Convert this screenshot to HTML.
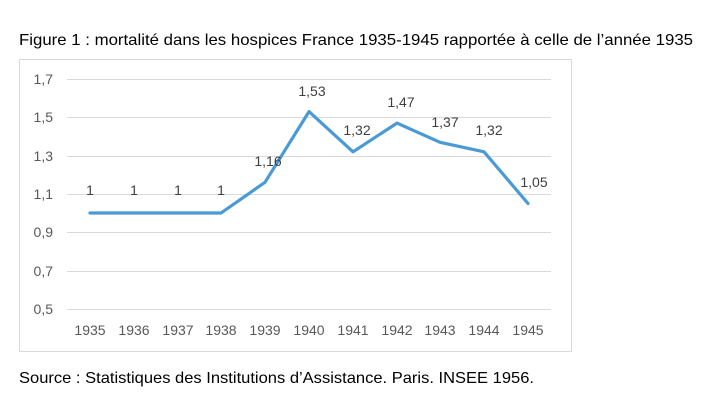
<!DOCTYPE html>
<html><head><meta charset="utf-8"><style>
body{margin:0;background:#fff;width:704px;height:412px;overflow:hidden}
</style></head><body>
<svg width="704" height="412" xmlns="http://www.w3.org/2000/svg" font-family="Liberation Sans, sans-serif">
<text x="19" y="45" font-size="16" fill="#000" textLength="674" lengthAdjust="spacingAndGlyphs">Figure 1 : mortalité dans les hospices France 1935-1945 rapportée à celle de l’année 1935</text>
<rect x="19.5" y="59.5" width="552" height="292" fill="#fff" stroke="#d9d9d9"/>
<g stroke="#d9d9d9" stroke-width="1">
<line x1="67" x2="551" y1="79.5" y2="79.5"/>
<line x1="67" x2="551" y1="117.5" y2="117.5"/>
<line x1="67" x2="551" y1="156.5" y2="156.5"/>
<line x1="67" x2="551" y1="194.5" y2="194.5"/>
<line x1="67" x2="551" y1="232.5" y2="232.5"/>
<line x1="67" x2="551" y1="271.5" y2="271.5"/>
<line x1="67" x2="551" y1="309.5" y2="309.5"/>
</g>
<g font-size="14" fill="#595959" text-anchor="end">
<text x="53" y="84">1,7</text>
<text x="53" y="122">1,5</text>
<text x="53" y="161">1,3</text>
<text x="53" y="199">1,1</text>
<text x="53" y="237">0,9</text>
<text x="53" y="276">0,7</text>
<text x="53" y="314">0,5</text>
</g>
<g font-size="14" fill="#595959" text-anchor="middle">
<text x="90" y="335">1935</text><text x="134" y="335">1936</text><text x="178" y="335">1937</text><text x="221" y="335">1938</text><text x="265" y="335">1939</text><text x="309" y="335">1940</text><text x="353" y="335">1941</text><text x="397" y="335">1942</text><text x="440" y="335">1943</text><text x="484" y="335">1944</text><text x="528" y="335">1945</text>
</g>
<polyline fill="none" stroke="#4a9ad6" stroke-width="3.2" stroke-linejoin="round" stroke-linecap="round"
points="90,213 134,213 178,213 221,213 265,182.3 309,111.6 353,151.8 397,123.1 440,142.3 484,151.8 528,203.5"/>
<g font-size="14" fill="#404040" text-anchor="middle">
<text x="90" y="195">1</text><text x="134" y="195">1</text><text x="178" y="195">1</text><text x="221" y="195">1</text>
<text x="268" y="166">1,16</text><text x="312" y="96">1,53</text><text x="357" y="135">1,32</text><text x="401" y="107">1,47</text><text x="445" y="127">1,37</text><text x="489" y="135">1,32</text><text x="534" y="187">1,05</text>
</g>
<text x="19" y="383" font-size="16" fill="#000" textLength="515" lengthAdjust="spacingAndGlyphs">Source : Statistiques des Institutions d’Assistance. Paris. INSEE 1956.</text>
</svg>
</body></html>
